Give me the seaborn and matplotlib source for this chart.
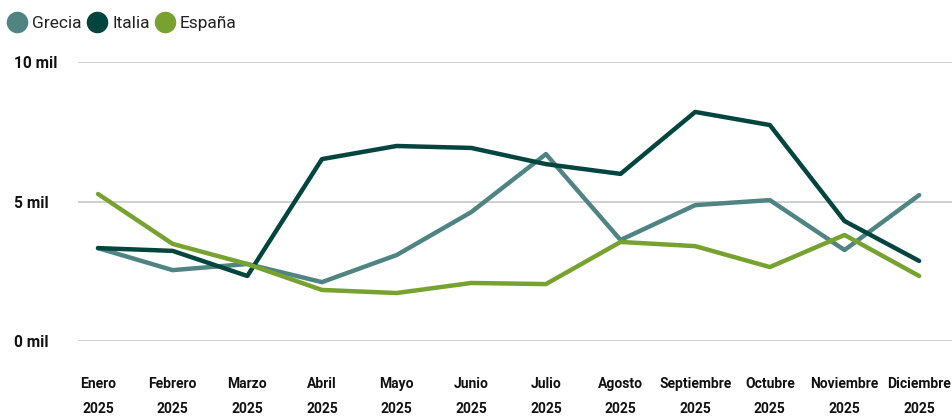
import matplotlib
matplotlib.use("Agg")
import matplotlib.pyplot as plt
import seaborn as sns
import pandas as pd
from matplotlib.lines import Line2D

months = ["Enero", "Febrero", "Marzo", "Abril", "Mayo", "Junio", "Julio",
          "Agosto", "Septiembre", "Octubre", "Noviembre", "Diciembre"]
year = "2025"
grecia = [3.33, 2.54, 2.76, 2.11, 3.08, 4.62, 6.70, 3.62, 4.87, 5.05, 3.26, 5.23]
italia = [3.33, 3.23, 2.33, 6.52, 6.99, 6.92, 6.34, 5.99, 8.21, 7.74, 4.30, 2.87]
espana = [5.27, 3.48, 2.76, 1.83, 1.72, 2.08, 2.04, 3.55, 3.40, 2.65, 3.80, 2.33]
series_names = ["Grecia", "Italia", "España"]
colors = ["#4f8483", "#02453f", "#78a22f"]
yticks = [0, 5, 10]
ytick_labels = ["0 mil", "5 mil", "10 mil"]

sns.set_theme(style="white")
plt.rcParams["font.family"] = ["Roboto", "DejaVu Sans"]

rows = []
for name, vals in zip(series_names, [grecia, italia, espana]):
    for i, v in enumerate(vals):
        rows.append({"idx": i, "valor": v, "pais": name})
df = pd.DataFrame(rows)

fig = plt.figure(figsize=(9.52, 4.17), dpi=100)
ax = fig.add_axes([78 / 952, 1 - 341 / 417, 1 - 78 / 952, (341 - 62) / 417])

sns.lineplot(data=df, x="idx", y="valor", hue="pais", palette=dict(zip(series_names, colors)),
             linewidth=3.2, ax=ax, legend=False, clip_on=False)

ax.set_xlim(-0.268, 11.44)
ax.set_ylim(0, 10)
ax.set_yticks(yticks)
ax.set_yticklabels(ytick_labels, fontsize=11.2, fontweight="bold", color="#111111", ha="left")
ax.tick_params(axis="y", length=0, pad=46)
ax.set_xticks(range(len(months)))
ax.set_xticklabels([f"{m}\n{year}" for m in months], fontsize=10, fontweight="bold",
                   color="#111111", linespacing=2.0)
ax.tick_params(axis="x", length=0, pad=26)
ax.grid(axis="y", color="#cccccc", linewidth=1.3)
ax.grid(axis="x", visible=False)
for s in ax.spines.values():
    s.set_visible(False)
ax.set_xlabel("")
ax.set_ylabel("")

handles = [Line2D([], [], marker="o", linestyle="", markersize=14.5, color=c) for c in colors]
leg = fig.legend(handles, series_names, loc="upper left", bbox_to_anchor=(-0.01, 1.0),
                 ncol=3, frameon=False, fontsize=12.5, handletextpad=0.2, columnspacing=0.25,
                 handlelength=1.3, labelcolor="#222222")

fig.savefig("out.png", dpi=100)
